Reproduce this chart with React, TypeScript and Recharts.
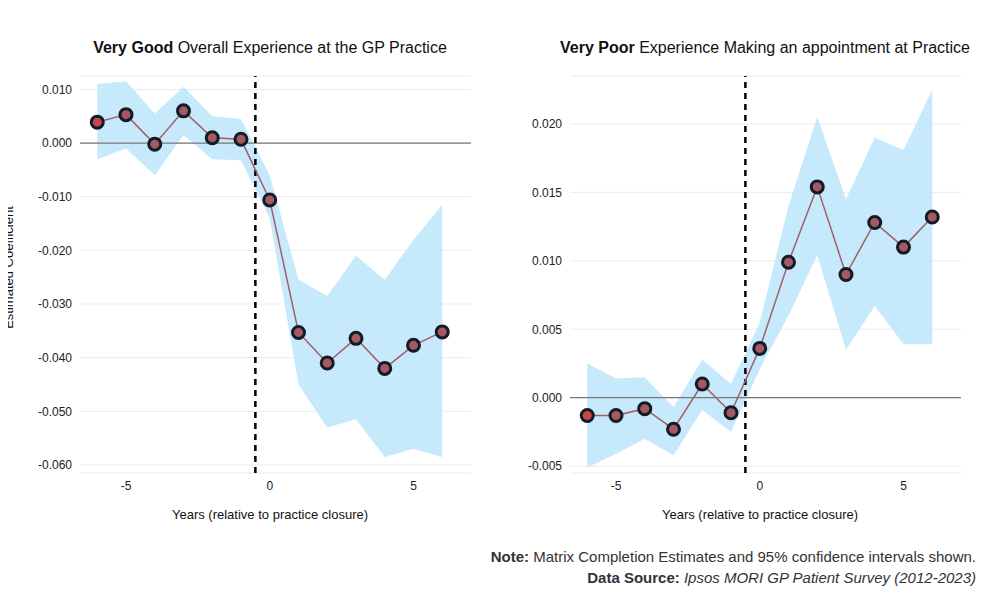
import { ComposedChart, Area, Line, XAxis, YAxis, CartesianGrid, ReferenceLine } from 'recharts'

const years = [-6, -5, -4, -3, -2, -1, 0, 1, 2, 3, 4, 5, 6]
const goodEst = [0.0039, 0.0053, -0.0002, 0.006, 0.001, 0.0007, -0.0106, -0.0353, -0.041, -0.0364, -0.042, -0.0377, -0.0352]
const goodHi = [0.011, 0.0115, 0.0055, 0.0105, 0.005, 0.0045, -0.006, -0.0255, -0.0285, -0.021, -0.0255, -0.018, -0.0115]
const goodLo = [-0.003, -0.001, -0.006, 0.0015, -0.003, -0.0032, -0.014, -0.045, -0.053, -0.0515, -0.0585, -0.057, -0.0585]
const poorEst = [-0.0013, -0.0013, -0.0008, -0.0023, 0.001, -0.0011, 0.0036, 0.0099, 0.0154, 0.009, 0.0128, 0.011, 0.0132]
const poorHi = [0.0025, 0.0014, 0.0015, -0.0007, 0.0028, 0.001, 0.0055, 0.014, 0.0205, 0.0145, 0.019, 0.0181, 0.0225]
const poorLo = [-0.0051, -0.0041, -0.003, -0.0042, -0.0009, -0.0025, 0.0021, 0.006, 0.0104, 0.0035, 0.0067, 0.0039, 0.0039]
const goodTicks = [-0.06, -0.05, -0.04, -0.03, -0.02, -0.01, 0, 0.01]
const poorTicks = [-0.005, 0, 0.005, 0.01, 0.015, 0.02]
const xTicks = [-5, 0, 5]

const font = 'Helvetica, Arial, "Liberation Sans", sans-serif'

const Dot = (p: any) => {
  if (p.cx == null) return null
  return (
    <circle key={p.index} cx={p.cx} cy={p.cy} r={6} fill={p.index === 0 ? '#c9474b' : '#a85864'} stroke="#111c26" strokeWidth={3} />
  )
}

function Panel({ est, hi, lo, ticks, domain, yw, ml, mr }: any) {
  const data = years.map((y, i) => ({ y, est: est[i], band: [lo[i], hi[i]] }))
  return (
    <ComposedChart width={500} height={600} data={data} margin={{ top: 76, right: mr, left: ml, bottom: 97 }}>
      <CartesianGrid stroke="#ebebeb" vertical={false} />
      <XAxis type="number" dataKey="y" domain={[-6.6, 7]} ticks={xTicks} axisLine={false} tickLine={false}
        tick={{ fontSize: 12, fill: '#222', fontFamily: font }} />
      <YAxis domain={domain} ticks={ticks} width={yw} axisLine={false} tickLine={false}
        tickFormatter={(v: number) => v.toFixed(3)}
        tick={{ fontSize: 12, fill: '#222', fontFamily: font }} />
      <Area dataKey="band" stroke="none" fill="#c6e9fb" fillOpacity={1} isAnimationActive={false} />
      <ReferenceLine y={0} stroke="#777" strokeWidth={1.2} />
      <ReferenceLine x={-0.5} stroke="#000" strokeWidth={2.5} strokeDasharray="6 5" />
      <Line dataKey="est" stroke="#a0606a" strokeWidth={1.5} dot={<Dot />} isAnimationActive={false} />
    </ComposedChart>
  )
}

export default function App() {
  return (
    <div style={{ position: 'relative', width: 1000, height: 600, margin: -8, background: '#fff', fontFamily: font, color: '#111' }}>
      <div style={{ position: 'absolute', left: 0, top: 0 }}>
        <Panel est={goodEst} hi={goodHi} lo={goodLo} ticks={goodTicks} domain={[-0.0615, 0.0125]} yw={60} ml={20} mr={29} />
      </div>
      <div style={{ position: 'absolute', left: 500, top: 0 }}>
        <Panel est={poorEst} hi={poorHi} lo={poorLo} ticks={poorTicks} domain={[-0.0055, 0.0235]} yw={60} ml={10} mr={39} />
      </div>
      <div style={{ position: 'absolute', left: -92, width: 200, top: 260, textAlign: 'center', fontSize: 13, transform: 'rotate(-90deg)' }}>
        Estimated Coefficient
      </div>
      <div style={{ position: 'absolute', left: 70, width: 400, top: 39, textAlign: 'center', fontSize: 16 }}>
        <b>Very Good</b> Overall Experience at the GP Practice
      </div>
      <div style={{ position: 'absolute', left: 560, width: 400, top: 39, textAlign: 'center', fontSize: 16, whiteSpace: 'nowrap' }}>
        <b>Very Poor</b> Experience Making an appointment at Practice
      </div>
      <div style={{ position: 'absolute', left: 70, width: 400, top: 507, textAlign: 'center', fontSize: 13 }}>
        Years (relative to practice closure)
      </div>
      <div style={{ position: 'absolute', left: 560, width: 400, top: 507, textAlign: 'center', fontSize: 13 }}>
        Years (relative to practice closure)
      </div>
      <div style={{ position: 'absolute', right: 24, top: 546, textAlign: 'right', fontSize: 15, color: '#333', lineHeight: '21px' }}>
        <div><b>Note:</b> Matrix Completion Estimates and 95% confidence intervals shown.</div>
        <div><b>Data Source:</b> <i>Ipsos MORI GP Patient Survey (2012-2023)</i></div>
      </div>
    </div>
  )
}
